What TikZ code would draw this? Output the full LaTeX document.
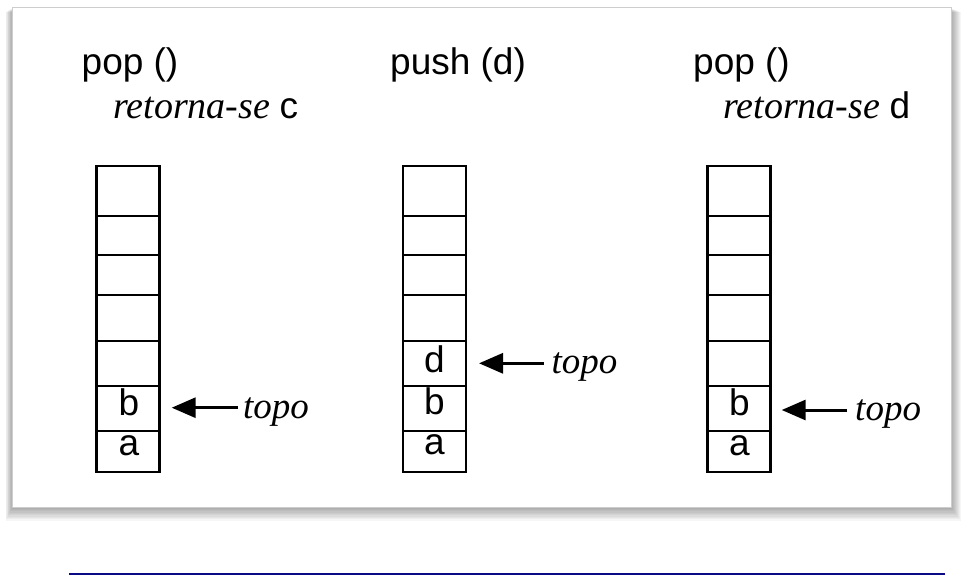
\documentclass[tikz,border=0pt]{standalone}
\usepackage{fontspec}
\setmainfont{Liberation Serif}
\setsansfont{Liberation Sans}
\usetikzlibrary{arrows.meta}
\definecolor{navyline}{RGB}{10,10,135}
\definecolor{panelborder}{RGB}{205,205,205}
\begin{document}
\begin{tikzpicture}[x=1pt,y=-1pt,
  cell/.style={draw=black,line width=2.9pt,inner sep=0pt,minimum width=63pt},
  lbl/.style={inner sep=0pt,anchor=base,font=\sffamily\fontsize{37}{40}\selectfont},
  title/.style={inner sep=0pt,anchor=base west,font=\sffamily\fontsize{37}{40}\selectfont},
  topolbl/.style={inner sep=0pt,anchor=base west,font=\rmfamily\itshape\fontsize{37}{40}\selectfont},
  arr/.style={line width=3pt,-{Triangle[length=24pt,width=20pt]}}]
\useasboundingbox (0,0) rectangle (965,575);
\fill[white] (0,0) rectangle (965,575);
% shadow of the panel
\foreach \i in {1,...,10}{
  \fill[black,opacity=0.035] (12.5-\i*0.7,8+\i*0.4) rectangle (951.5+\i*0.9,507.5+\i*1.3);
}
\draw[panelborder,fill=white,line width=1pt] (12.5,8) rectangle (951.5,507.5);

% titles
\node[title] (t1) at (81.5,75) {pop ()};
\node[title] (r1) at (113,118.3) {\rmfamily\itshape\fontsize{38}{40}\selectfont retorna-se \sffamily\upshape\fontsize{37}{40}\selectfont c};
\node[title] (t2) at (390,75) {push (d)};
\node[title] (t3) at (693,75) {pop ()};
\node[title] (r3) at (723,118.3) {\rmfamily\itshape\fontsize{38}{40}\selectfont retorna-se \sffamily\upshape\fontsize{37}{40}\selectfont d};

% stacks
\foreach \s/\xc in {1/127.7,2/434.5,3/738.7}{
  \foreach \k/\ya/\yb in {1/166/216,2/216/255,3/255/295,4/295/341,5/341/386,6/386/431,7/431/472}{
    \node[cell,minimum height={\yb-\ya}] (s\s c\k) at (\xc,{(\ya+\yb)/2}) {};
  }
}

% cell contents
\node[lbl] (s1b) at (129,415) {b};
\node[lbl] (s1a) at (129,455) {a};
\node[lbl] (s2d) at (434.5,372) {d};
\node[lbl] (s2b) at (434.5,414) {b};
\node[lbl] (s2a) at (434.5,454) {a};
\node[lbl] (s3b) at (739.5,415) {b};
\node[lbl] (s3a) at (739.5,455) {a};

% topo pointers
\node[topolbl] (p1) at (243,418) {topo};
\node[topolbl] (p2) at (551.5,373.5) {topo};
\node[topolbl] (p3) at (855,420) {topo};
\coordinate (a1) at (171.7,407.7);
\coordinate (a2) at (479,363.3);
\coordinate (a3) at (781.7,410);
\draw[arr] (p1.west |- a1) ++(-5,0) -- (a1);
\draw[arr] (p2.west |- a2) ++(-8,0) -- (a2);
\draw[arr] (p3.west |- a3) ++(-8,0) -- (a3);

% bottom rule
\coordinate (l1) at (69,574);
\coordinate (l2) at (945,574);
\draw[navyline,line width=1.8pt] (l1) -- (l2);
\end{tikzpicture}
\end{document}
